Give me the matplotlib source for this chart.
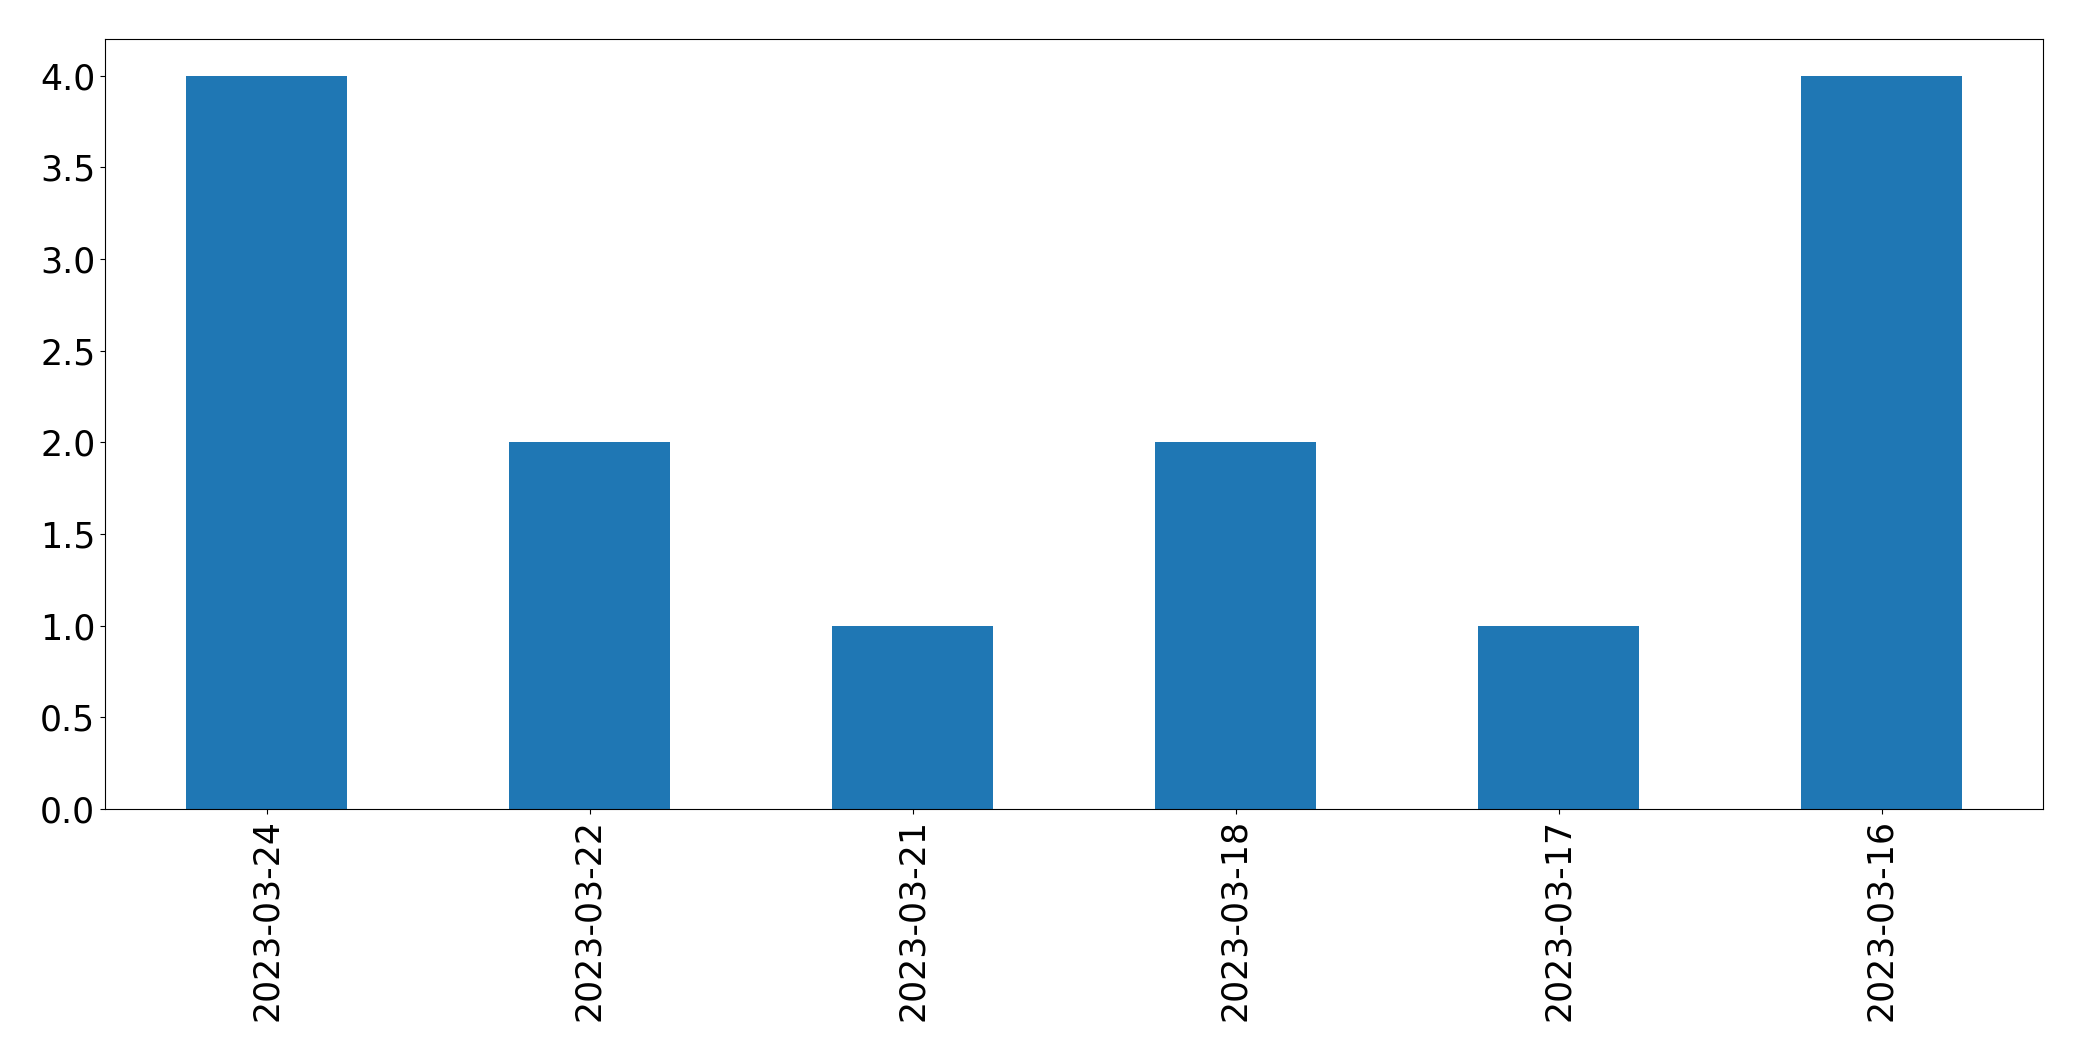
import matplotlib
matplotlib.use("Agg")
import matplotlib.pyplot as plt
import pandas as pd

dates = ["2023-03-24", "2023-03-22", "2023-03-21", "2023-03-18", "2023-03-17", "2023-03-16"]
counts = [4, 2, 1, 2, 1, 4]

s = pd.Series(counts, index=dates)

fig = plt.figure(figsize=(20.82, 10.61), dpi=100)
ax = fig.add_axes([105 / 2082, 1 - 809 / 1061, (2043 - 105) / 2082, (809 - 39) / 1061])
s.plot(kind="bar", ax=ax, color="#1f77b4")
ax.tick_params(axis="both", labelsize=25)
fig.savefig("out.png", dpi=100)
